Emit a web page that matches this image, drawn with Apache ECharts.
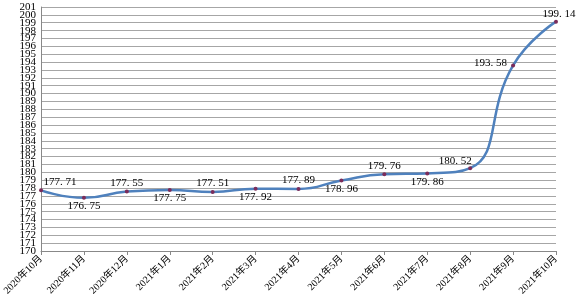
<!DOCTYPE html>
<html><head><meta charset="utf-8">
<script src="https://cdn.jsdelivr.net/npm/echarts@6/dist/echarts.min.js"></script>
<style>html,body{margin:0;padding:0;background:#fff}#c{width:577px;height:304px}</style>
</head><body><div id="c"></div>
<script>
var categories = ['2020年10月','2020年11月','2020年12月','2021年1月','2021年2月','2021年3月','2021年4月','2021年5月','2021年6月','2021年7月','2021年8月','2021年9月','2021年10月'];
var values = [177.71, 176.75, 177.55, 177.75, 177.51, 177.92, 177.89, 178.96, 179.76, 179.86, 180.52, 193.58, 199.14];
var labelPlaces = ['above','below','above','below','above','below','above','below','above','below','aboveLeft','left','above'];
var yTicks = {min: 170, max: 201, interval: 1};

var posMap = {
  above: {position: 'top', offset: [0, 4]},
  below: {position: 'bottom', offset: [0, -4]},
  aboveLeft: {position: 'top', offset: [-15, 5]},
  left: {position: 'left', offset: [1, -2]}
};
var data = values.map(function (v, i) {
  var p = posMap[labelPlaces[i]];
  var off = p.offset.slice();
  if (i === 0) off = [19, 4];
  if (i === values.length - 1) off = [3, 5];
  return {value: v, label: {position: p.position, offset: off}};
});
var serif = '"Liberation Serif","DejaVu Serif","Noto Sans CJK SC",serif';
var yLabelBase = {fontSize: 11, color: '#000', margin: 5, fontFamily: serif, lineHeight: 6, hideOverlap: false};
var chart = echarts.init(document.getElementById('c'), null, {renderer: 'canvas'});
chart.setOption({
  animation: false,
  grid: {left: 38, right: 21, top: 7, bottom: 53},
  xAxis: {
    type: 'category', data: categories, boundaryGap: false,
    axisLine: {lineStyle: {color: '#888', width: 1}},
    axisTick: {show: true, length: 4, lineStyle: {color: '#888'}},
    axisLabel: {rotate: 45, fontSize: 10, color: '#000', margin: 6,
      fontFamily: '"Liberation Serif","Noto Sans CJK SC",serif', interval: 0},
    splitLine: {show: false}
  },
  yAxis: [{
    type: 'value', min: yTicks.min, max: yTicks.max, interval: yTicks.interval, position: 'left',
    axisLine: {show: true, lineStyle: {color: '#888'}},
    axisTick: {show: false},
    axisLabel: Object.assign({showMinLabel: false, showMaxLabel: false}, yLabelBase),
    splitLine: {lineStyle: {color: '#a6a6a6', width: 1.2}}
  }, {
    type: 'value', min: yTicks.min, max: yTicks.max, interval: yTicks.interval, position: 'left', offset: 0,
    axisLine: {show: false}, axisTick: {show: false}, splitLine: {show: false},
    axisLabel: Object.assign({showMinLabel: true, showMaxLabel: true,
      formatter: function (v) { return (v === yTicks.min || v === yTicks.max) ? String(v) : ''; }}, yLabelBase)
  }],
  series: [{
    type: 'line', data: data, smooth: 0.5, yAxisIndex: 0,
    lineStyle: {color: '#4f81bd', width: 2.5},
    symbol: 'circle', symbolSize: 4,
    itemStyle: {color: '#7b2c5a'},
    label: {show: true, fontSize: 11, color: '#000', fontFamily: serif,
      formatter: function (p) { return String(p.value).replace('.', '. '); }}
  }]
});
</script></body></html>
